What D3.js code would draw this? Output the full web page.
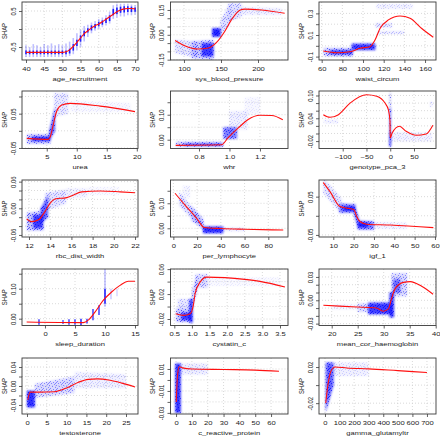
<!DOCTYPE html>
<html><head><meta charset="utf-8">
<script src="https://cdn.jsdelivr.net/npm/d3@7"></script>
<style>html,body{margin:0;padding:0;background:#fff;}svg{display:block;}text{font-family:"Liberation Sans",Arial,Helvetica,sans-serif;fill:#1a1a1a;}</style>
</head><body><svg id="c" width="440" height="440"></svg>
<script>
// ---------------- data ----------------
const featureNames = ["age_recruitment","sys_blood_pressure","waist_circum","urea","whr","genotype_pca_3",
  "rbc_dist_width","per_lymphocyte","igf_1","sleep_duration","cystatin_c","mean_cor_haemoglobin",
  "testosterone","c_reactive_protein","gamma_glutamyltr"];

const xDomains = [[38.9,70.8],[81.8,240.5],[57.4,170.6],[0.88,20.2],[0.613,1.384],[-149.9,96.3],
  [11.34,22.28],[-2.4,96.6],[2.97,60.5],[-3.83,15.5],[0.392,3.727],[17.56,40.06],
  [-1.26,28.03],[-3.5,70.7],[-41,762]];
const yDomains = [[-0.861,0.75],[-0.152,0.198],[-0.1315,0.4056],[-0.0515,0.116],[-0.0352,0.195],[-0.0395,0.1118],
  [-0.0646,0.0637],[-0.0348,0.193],[-0.0554,0.0935],[-0.0227,0.1657],[-0.0304,0.0602],[-0.0324,0.0402],
  [-0.059,0.059],[-0.031,0.02],[-0.032,0.03]];

const xTicks = [[40,45,50,55,60,65,70],[100,150,200],[60,80,100,120,140,160],[5,10,15,20],[0.8,1.0,1.2],[-100,-50,0,50],
  [12,14,16,18,20,22],[0,20,40,60,80],[10,20,30,40,50,60],[0,5,10,15],[0.5,1.0,1.5,2.0,2.5,3.0,3.5],[20,25,30,35,40],
  [0,5,10,15,20,25],[0,10,20,30,40,50,60],[0,100,200,300,400,500,600,700]];
const xTickLabels = [["40","45","50","55","60","65","70"],["100","150","200"],["60","80","100","120","140","160"],
  ["5","10","15","20"],["0.8","1.0","1.2"],["\u2212100","\u221250","0","50"],["12","14","16","18","20","22"],
  ["0","20","40","60","80"],["10","20","30","40","50","60"],["0","5","10","15"],
  ["0.5","1.0","1.5","2.0","2.5","3.0","3.5"],["20","25","30","35","40"],["0","5","10","15","20","25"],
  ["0","10","20","30","40","50","60"],["0","100","200","300","400","500","600","700"]];
const yTicks = [[-0.5,0,0.5],[-0.15,-0.1,-0.05,0,0.05,0.1,0.15],[-0.1,0,0.1,0.2,0.3],[-0.05,0,0.05,0.1],[0,0.05,0.1,0.15],
  [-0.02,0,0.02,0.04,0.06,0.08,0.1],[-0.06,-0.04,-0.02,0,0.02,0.04,0.06],[0,0.05,0.1,0.15],[-0.05,0,0.05],
  [0,0.05,0.1,0.15],[-0.02,0,0.02,0.04,0.06],[-0.03,-0.02,-0.01,0,0.01,0.02,0.03],
  [-0.04,-0.02,0,0.02,0.04],[-0.03,-0.02,-0.01,0,0.01],[-0.02,0,0.02]];
const yTickLabels = [["-0.5","","0.5"],["-0.15","","","0.00","","","0.15"],["-0.1","","0.1","","0.3"],["-0.05","","0.05",""],
  ["0.00","","0.10",""],["-0.02","","","0.04","","","0.10"],["-0.06","","","0.00","","","0.06"],["0.00","","0.10",""],
  ["-0.05","","0.05"],["0.00","","0.10",""],["-0.02","","0.02","","0.06"],["-0.03","","","0.00","","","0.03"],
  ["-0.04","","0.00","","0.04"],["-0.03","","-0.01","","0.01"],["-0.02","","0.02"]];

// red smooth curves [x, shap]
const curve_age = [[40,-0.65],[50,-0.65],[51,-0.63],[52,-0.58],[53,-0.48],[54,-0.37],[55,-0.25],[56,-0.13],[57,-0.05],[58,0.03],[59,0.09],[60,0.14],[61,0.2],[62,0.27],[63,0.34],[64,0.41],[65,0.48],[66,0.53],[67,0.56],[68,0.57],[69,0.57],[70,0.56]];
const curve_sbp = [[88,-0.034],[101,-0.066],[119,-0.086],[133,-0.08],[144,-0.046],[155,0.02],[164,0.09],[176,0.15],[182,0.155],[205,0.15],[236,0.13]];
const curve_waist = [[61.5,-0.048],[74.5,-0.064],[87.4,-0.055],[97,-0.023],[106.7,-0.008],[111.6,0.054],[116.4,0.16],[124.5,0.24],[135.8,0.276],[145.5,0.255],[156.8,0.16],[168,0.079]];
const curve_urea = [[1.67,-0.022],[5.28,-0.025],[5.55,-0.019],[6.1,0.019],[6.67,0.058],[7.5,0.075],[8.9,0.08],[13.9,0.072],[19.7,0.056]];
const curve_whr = [[0.647,-0.0225],[0.949,-0.02],[0.99,0.007],[1.058,0.047],[1.12,0.08],[1.2,0.098],[1.277,0.097],[1.35,0.08]];
const curve_pca3 = [[-140.8,0.0495],[-126.7,0.0426],[-109,0.0495],[-84.6,0.08],[-49.5,0.102],[-28.5,0.098],[-11,0.08],[-4,0.0626],[-0.5,0.032],[0,-0.0118],[4,0.0013],[19.5,0.019],[33.5,0.0058],[54.6,-0.0047],[75.7,-0.0013],[89.7,0.0216]];
const curve_rbc = [[11.78,-0.024],[12.25,-0.03],[12.9,-0.026],[13.5,-0.0075],[13.98,0.011],[14.45,0.021],[15.56,0.024],[16.2,0.03],[16.97,0.037],[18.7,0.039],[20.6,0.037],[22,0.035]];
const curve_lymph = [[1.4,0.14],[10,0.092],[20,0.038],[26,0.003],[40,-0.001],[60,-0.004],[92.6,-0.007]];
const curve_igf = [[5.07,0.087],[8.4,0.063],[13.3,0.024],[16.6,0.02],[20.2,0.016],[21.5,-0.002],[23.1,-0.015],[26.4,-0.022],[37.9,-0.024],[59.2,-0.031]];
const curve_sleep = [[-3.05,-0.011],[6.4,-0.013],[7.2,-0.005],[8.33,0.022],[9.7,0.061],[11.1,0.089],[12.5,0.111],[13.9,0.125],[15,0.125]];
const curve_cyst = [[0.54,-0.0115],[0.76,-0.0141],[0.95,-0.0115],[1.04,0.0019],[1.09,0.0205],[1.23,0.0392],[1.42,0.0472],[2.5,0.0435],[2.93,0.0403],[3.64,0.0312]];
const curve_mchb = [[18.4,-0.0064],[24.8,-0.0086],[28.6,-0.0099],[29.9,-0.014],[30.9,-0.011],[31.5,0.002],[32.2,0.015],[33.8,0.023],[35.1,0.024],[37.3,0.018],[39.5,0.0077]];
const curve_testo = [[0.2,-0.029],[0.8,-0.013],[3,-0.013],[7,-0.012],[10,-0.004],[13,0.008],[15.5,0.014],[17.7,0.015],[21,0.012],[24,0.006],[27.3,-0.002]];
const curve_crp = [[0.1,-0.02],[1,0.005],[2,0.012],[4,0.011],[10,0.01],[30,0.0095],[50,0.009],[65,0.008]];
const curve_ggt = [[5,-0.02],[20,0.0],[40,0.015],[70,0.02],[150,0.019],[300,0.018],[500,0.016],[700,0.014]];

// blue point clouds: bars [x, lo, hi, alpha] or bands [x0, x1, lo0, hi0, lo1, hi1, alpha]
const cloud_age = [[40,-0.78,-0.45,.25],[41,-0.78,-0.5,.25],[42,-0.78,-0.42,.25],[43,-0.78,-0.45,.25],[44,-0.78,-0.5,.25],[45,-0.78,-0.42,.25],[46,-0.78,-0.45,.25],[47,-0.78,-0.4,.25],[48,-0.78,-0.45,.25],[49,-0.78,-0.42,.25],[50,-0.78,-0.45,.25],[51,-0.78,-0.4,.25],[52,-0.75,-0.35,.25],[53,-0.7,-0.25,.25],[54,-0.6,-0.12,.25],[55,-0.5,-0.02,.25],[56,-0.35,0.08,.25],[57,-0.22,0.12,.25],[58,-0.12,0.18,.25],[59,-0.05,0.22,.25],[60,0,0.28,.25],[61,0.05,0.32,.25],[62,0.1,0.38,.25],[63,0.15,0.48,.25],[64,0.28,0.66,.25],[65,0.32,0.7,.25],[66,0.35,0.7,.25],[67,0.35,0.7,.25],[68,0.38,0.7,.25],[69,0.38,0.68,.25],[70,0.4,0.66,.25],
  [40,-0.7,-0.6,.85],[41,-0.7,-0.6,.85],[42,-0.7,-0.6,.85],[43,-0.7,-0.6,.85],[44,-0.7,-0.6,.85],[45,-0.7,-0.6,.85],[46,-0.7,-0.6,.85],[47,-0.7,-0.6,.85],[48,-0.7,-0.6,.85],[49,-0.7,-0.6,.85],[50,-0.7,-0.6,.85],[51,-0.7,-0.6,.85],[52,-0.68,-0.55,.85],[53,-0.6,-0.42,.85],[54,-0.47,-0.3,.85],[55,-0.35,-0.18,.85],[56,-0.2,-0.05,.85],[57,-0.1,0.02,.85],[58,-0.04,0.1,.85],[59,0.02,0.14,.85],[60,0.08,0.2,.85],[61,0.12,0.24,.85],[62,0.17,0.3,.85],[63,0.22,0.38,.85],[64,0.38,0.56,.85],[65,0.42,0.6,.85],[66,0.45,0.62,.85],[67,0.46,0.63,.85],[68,0.47,0.63,.85],[69,0.47,0.62,.85],[70,0.48,0.6,.85]];
const cloud_sbp = [[88,118,-0.11,-0.03,-0.14,-0.04,0.2],[110,140,-0.14,-0.04,-0.15,-0.03,0.4],[124,140,-0.13,-0.05,-0.13,-0.05,0.7],[138,149.5,-0.012,0.04,-0.012,0.04,0.85],[149,162,0.0,0.08,0.06,0.19,0.25],[160,178,0.08,0.19,0.11,0.19,0.25],[178,232,0.12,0.17,0.12,0.16,0.12]];
const cloud_waist = [[62,90,-0.095,-0.02,-0.1,-0.02,0.45],[68,90,-0.08,-0.04,-0.08,-0.04,0.65],[89,112,-0.04,0.02,-0.04,0.02,0.75],[113,148,0.34,0.385,0.34,0.385,0.12],[112,128,0.17,0.21,0.17,0.21,0.2],[114,140,0.11,0.135,0.11,0.135,0.18]];
const cloud_urea = [[1.7,5.6,-0.038,-0.01,-0.038,-0.01,0.45],[2.5,5.6,-0.03,-0.017,-0.03,-0.017,0.8],[5.4,6.4,-0.03,0.0,0.0,0.07,0.6],[6.2,8.6,0.04,0.11,0.05,0.11,0.18],[9,19,0.055,0.09,0.055,0.08,0.06]];
const cloud_whr = [[0.65,0.96,-0.028,-0.008,-0.028,-0.008,0.45],[0.7,0.95,-0.023,-0.016,-0.023,-0.016,0.8],[0.96,1.05,0.004,0.05,0.004,0.05,0.5],[1.0,1.12,0.04,0.115,0.04,0.115,0.12],[1.1,1.2,0.1,0.17,0.1,0.17,0.06]];
const cloud_pca3 = [[-1.5,1.5,-0.034,0.005,-0.034,0.005,0.9],[-1.2,1.2,0.005,0.067,0.005,0.067,0.55],[-0.6,0.6,0.067,0.107,0.067,0.107,0.35],[3,88,-0.021,0.004,-0.021,0.004,0.1],[-140,-110,0.027,0.036,0.027,0.036,0.12],[84,89,0.07,0.085,0.07,0.085,0.15]];
const cloud_rbc = [[11.8,13.4,-0.05,-0.01,-0.05,-0.005,0.45],[12.4,13.3,-0.045,-0.015,-0.045,-0.015,0.7],[13.1,13.8,-0.035,0.0,-0.02,0.03,0.6],[13.5,15.5,-0.005,0.035,0.01,0.042,0.22],[15.5,17.5,0.022,0.045,0.025,0.045,0.1],[17.5,20.5,0.03,0.048,0.03,0.048,0.05]];
const cloud_lymph = [[5,26,0.09,0.145,-0.012,0.025,0.28],[15,25,0.03,0.09,0.0,0.04,0.35],[25,42,-0.02,0.007,-0.02,0.007,0.8],[42,60,-0.012,0.003,-0.012,0.003,0.15],[8,14,0.12,0.17,0.12,0.17,0.08]];
const cloud_igf = [[5,14,0.06,0.1,0.005,0.045,0.22],[13,21,0.008,0.032,0.008,0.03,0.5],[15,20.5,0.013,0.024,0.013,0.024,0.8],[20.3,22.5,0.0,0.028,-0.035,-0.005,0.6],[22,30,-0.036,-0.012,-0.036,-0.015,0.5],[22,27,-0.03,-0.018,-0.03,-0.018,0.8],[30,46,-0.034,-0.016,-0.034,-0.018,0.12]];
const cloud_sleep = [[-1,-0.02,-0.002,0.7],[3,-0.018,-0.004,0.6],[4,-0.02,-0.002,0.7],[5,-0.02,-0.002,0.7],[6,-0.022,0.0,0.8],[7,-0.016,0.0,0.7],[8,-0.005,0.032,0.7],[9,0.012,0.045,0.7],[10,0.04,0.165,0.25],[10,0.05,0.1,0.8],[11,0.065,0.1,0.2],[12,0.075,0.1,0.15]];
const cloud_cyst = [[0.55,1.0,-0.025,-0.003,-0.025,-0.003,0.45],[0.7,0.98,-0.022,-0.01,-0.022,-0.01,0.7],[0.6,1.0,-0.003,0.012,-0.003,0.012,0.2],[0.93,1.02,-0.026,0.012,-0.026,0.012,0.8],[1.0,1.15,-0.005,0.025,0.025,0.05,0.4],[1.1,1.45,0.03,0.052,0.03,0.052,0.28],[1.45,3.5,0.033,0.047,0.033,0.047,0.05]];
const cloud_mchb = [[27,31.5,-0.018,-0.003,-0.018,-0.003,0.75],[25,27,-0.015,-0.004,-0.015,-0.004,0.3],[20,25,-0.012,-0.005,-0.012,-0.005,0.08],[31.1,32,-0.022,0.01,-0.022,0.01,0.75],[31.5,34.5,0.005,0.035,0.005,0.035,0.3],[31.8,33.2,0.01,0.027,0.01,0.027,0.5]];
const cloud_testo = [[0,2,-0.045,-0.01,-0.045,-0.01,0.8],[2,12,-0.025,0.005,-0.015,0.02,0.3],[12,25,-0.005,0.03,-0.005,0.025,0.12]];
const cloud_crp = [[-0.5,3,-0.03,0.015,-0.03,0.015,0.8],[3,20,0.005,0.015,0.005,0.015,0.15]];
const cloud_ggt = [[5,60,-0.03,0.025,0.0,0.025,0.6],[60,300,0.01,0.025,0.01,0.025,0.12]];

const curves = [curve_age,curve_sbp,curve_waist,curve_urea,curve_whr,curve_pca3,curve_rbc,curve_lymph,curve_igf,curve_sleep,curve_cyst,curve_mchb,curve_testo,curve_crp,curve_ggt];
const clouds = [cloud_age,cloud_sbp,cloud_waist,cloud_urea,cloud_whr,cloud_pca3,cloud_rbc,cloud_lymph,cloud_igf,cloud_sleep,cloud_cyst,cloud_mchb,cloud_testo,cloud_crp,cloud_ggt];

// ---------------- layout ----------------
const colLeft = [22,170.5,319], colRight = [138,288,436];
const rowTop = [2,91,180,269,358], rowBottom = [60,148.5,237,325.5,414];
const FS = 7.6, SY = 0.78;

const svg = d3.select("#c");
const defs = svg.append("defs");
defs.append("filter").attr("id","soft").attr("x","-30%").attr("y","-30%").attr("width","160%").attr("height","160%")
  .append("feGaussianBlur").attr("stdDeviation",0.8);
// stipple texture used to give clouds a scattered-point look
const pat = defs.append("pattern").attr("id","stip").attr("patternUnits","userSpaceOnUse").attr("width",7).attr("height",7);
[[0,0],[3,1],[6,2],[1,3],[4,4],[2,5],[5,6],[6,5],[0,4]].forEach(p=>pat.append("rect").attr("x",p[0]).attr("y",p[1]).attr("width",1).attr("height",1).attr("fill","#4848ff"));

featureNames.forEach((name,i)=>{
  const c = i%3, r = Math.floor(i/3);
  const L = colLeft[c], R = colRight[c], T = rowTop[r], B = rowBottom[r];
  const xs = d3.scaleLinear().domain(xDomains[i]).range([L,R]);
  const ys = d3.scaleLinear().domain(yDomains[i]).range([B,T]);
  const g = svg.append("g");
  defs.append("clipPath").attr("id","cp"+i).append("rect").attr("x",L).attr("y",T).attr("width",R-L).attr("height",B-T);

  // grid
  g.append("g").selectAll("line").data(xTicks[i].filter(v=>xs(v)>=L-0.5&&xs(v)<=R+0.5)).join("line")
    .attr("x1",d=>xs(d)).attr("x2",d=>xs(d)).attr("y1",T).attr("y2",B)
    .attr("stroke","#cfcfcf").attr("stroke-width",0.8).attr("stroke-dasharray","1,2");
  g.append("g").selectAll("line").data(yTicks[i]).join("line")
    .attr("x1",L).attr("x2",R).attr("y1",d=>ys(d)).attr("y2",d=>ys(d))
    .attr("stroke","#cfcfcf").attr("stroke-width",0.8).attr("stroke-dasharray","1,2");

  // clouds
  const shape = d=>{
    if(d.length===4){
      const x = xs(d[0]);
      return `M${x-0.8},${ys(d[1])}L${x+0.8},${ys(d[1])}L${x+0.8},${ys(d[2])}L${x-0.8},${ys(d[2])}Z`;
    }
    let a=xs(d[0]), b=xs(d[1]);
    if(b-a<1.6){const m=(a+b)/2;a=m-0.8;b=m+0.8;}
    return `M${a},${ys(d[2])}L${b},${ys(d[4])}L${b},${ys(d[5])}L${a},${ys(d[3])}Z`;
  };
  const clipG = g.append("g").attr("clip-path","url(#cp"+i+")");
  const bands = clouds[i].filter(d=>d.length===7);
  const bars = clouds[i].filter(d=>d.length===4);
  clipG.append("g").selectAll("path").data(bands).join("path").attr("d",shape)
    .attr("fill","url(#stip)").attr("fill-opacity",d=>Math.min(1,d[6]*1.8));
  clipG.append("g").attr("filter","url(#soft)").selectAll("path").data(bands).join("path").attr("d",shape)
    .attr("fill","#0000ff").attr("fill-opacity",d=>d[6]>=0.5?d[6]:d[6]*0.5);
  clipG.append("g").selectAll("path").data(bars).join("path").attr("d",shape)
    .attr("fill","#0000ff").attr("fill-opacity",d=>d[3]);

  // curve
  g.append("path").datum(curves[i]).attr("clip-path","url(#cp"+i+")")
    .attr("d",d3.line().x(d=>xs(d[0])).y(d=>ys(d[1])).curve(d3.curveMonotoneX))
    .attr("fill","none").attr("stroke","#ff1010").attr("stroke-width",1.1);

  // box
  g.append("rect").attr("x",L).attr("y",T).attr("width",R-L).attr("height",B-T)
    .attr("fill","none").attr("stroke","#3a3a3a").attr("stroke-width",0.9);

  // axes
  const xa = g.append("g").attr("transform",`translate(0,${B})`)
    .call(d3.axisBottom(xs).tickValues(xTicks[i]).tickSize(3).tickFormat((d,j)=>xTickLabels[i][j]));
  xa.select(".domain").remove();
  xa.selectAll("line").attr("stroke","#3a3a3a").attr("stroke-width",0.8);
  xa.selectAll("text").attr("y",null).attr("dy",null).attr("font-size",FS).attr("font-family",null)
    .attr("dominant-baseline","central").attr("text-anchor","middle").attr("fill","#1a1a1a")
    .attr("transform",`translate(0,8.5) scale(1,${SY})`);
  const ya = g.append("g").attr("transform",`translate(${L},0)`)
    .call(d3.axisLeft(ys).tickValues(yTicks[i]).tickSize(3).tickFormat((d,j)=>yTickLabels[i][j]));
  ya.select(".domain").remove();
  ya.selectAll("line").attr("stroke","#3a3a3a").attr("stroke-width",0.8);
  ya.selectAll("text").attr("x",null).attr("dy",null).attr("font-size",FS).attr("font-family",null)
    .attr("dominant-baseline","central").attr("text-anchor","middle").attr("fill","#1a1a1a")
    .attr("transform",`translate(-9,0) scale(1,${SY}) rotate(-90)`);

  // titles
  g.append("text").attr("font-size",FS).attr("text-anchor","middle").attr("dominant-baseline","central")
    .attr("transform",`translate(${(L+R)/2},${B+18.5}) scale(1,${SY})`).text(name);
  g.append("text").attr("font-size",FS).attr("text-anchor","middle").attr("dominant-baseline","central")
    .attr("transform",`translate(${L-18},${(T+B)/2}) scale(1,${SY}) rotate(-90)`).text("SHAP");
});
</script></body></html>
